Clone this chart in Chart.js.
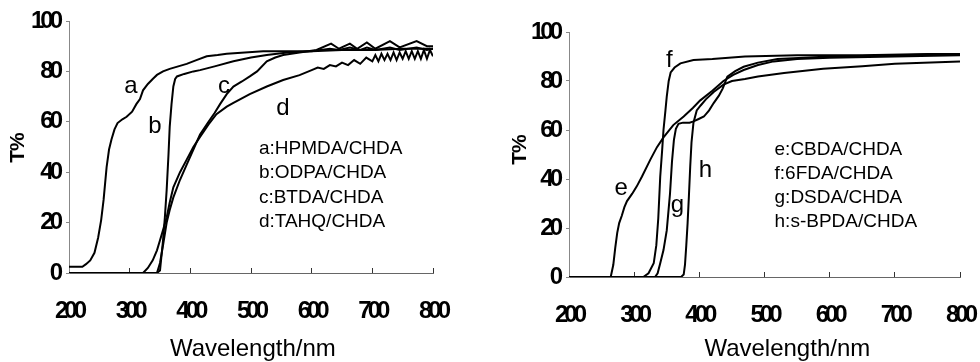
<!DOCTYPE html>
<html>
<head>
<meta charset="utf-8">
<title>Transmittance spectra</title>
<script src="https://cdn.jsdelivr.net/npm/chart.js@4.4.1/dist/chart.umd.min.js"></script>
<style>
  html, body { margin: 0; padding: 0; background: #fff; }
  #wrap { position: relative; width: 980px; height: 362px; }
  canvas { position: absolute; top: 0; }
  #left { left: 0; }
  #right { left: 490px; }
</style>
</head>
<body>
<div id="wrap">
  <canvas id="left" width="490" height="362"></canvas>
  <canvas id="right" width="490" height="362"></canvas>
</div>
<script>
// wavelength (nm) / transmittance (%)
const aNm = [200, 222, 228, 235, 242, 248, 253, 257, 262, 266, 270, 275, 280, 288, 295, 304, 311, 317, 322, 330, 338, 345, 355, 366, 380, 394, 410, 427, 445, 460, 490, 520, 560, 600, 650, 700, 750, 800];
const aT  = [2.5, 2.5, 3.5, 5, 8, 14, 21, 29, 42, 49, 53, 57, 59.5, 61, 62, 64, 67, 69, 72.5, 75, 77, 78.6, 80, 81, 82, 83, 84.5, 86, 86.5, 87, 87.5, 88, 88, 88, 88.5, 88.5, 89, 89];

const bNm = [200, 345, 350, 355, 358, 361, 364, 366, 369, 372, 375, 378, 390, 405, 416, 440, 471, 500, 526, 560, 600, 630, 645, 663, 680, 691, 705, 729, 745, 773, 790, 800];
const bT  = [0, 0, 1, 13, 22, 33, 47, 58, 67, 74, 77, 78, 79, 80, 80.5, 82, 84, 85.5, 86.5, 87.5, 88, 89, 88.5, 89.5, 88.5, 89.5, 88.5, 89.5, 88.5, 89.5, 88.5, 89];

const cNm = [200, 345, 350, 355, 361, 366, 372, 383, 394, 405, 416, 430, 440, 449, 460, 471, 485, 498, 510, 526, 540, 553, 580, 608, 632, 645, 663, 675, 691, 705, 729, 745, 773, 790, 800];
const cT  = [0, 0, 4, 11, 20, 25, 30, 37, 43, 49, 55, 60, 63.5, 67, 71, 74, 76, 78, 80, 84, 85.5, 86.5, 87.5, 88.5, 91, 89, 91, 89, 91.5, 89, 92, 89.5, 92, 90, 90];

const dNm = [200, 322, 330, 338, 345, 350, 355, 361, 366, 372, 383, 394, 405, 416, 430, 443, 460, 471, 498, 526, 553, 580, 600, 610, 620, 630, 640, 650, 660, 670, 680, 690, 700, 705, 710, 715, 720, 725, 730, 735, 740, 745, 750, 755, 760, 765, 770, 775, 780, 785, 790, 795, 800];
const dT  = [0, 0, 2, 5, 9, 13, 17, 22, 28, 34, 40, 45, 50, 54, 59, 63, 66, 67.5, 71, 74, 76.6, 78.5, 80.5, 81.5, 81, 82.5, 82, 83.5, 82.5, 84.5, 83, 85.5, 84, 86.5, 84, 87, 84.5, 87, 84.5, 87.5, 84.5, 87.5, 85, 88, 85, 88, 85, 88, 85, 88.5, 85, 88.5, 86];

const eNm = [200, 264, 268, 271, 274, 277, 281, 285, 289, 297, 304, 312, 325, 335, 345, 360, 376, 390, 401, 420, 437, 452, 468, 490, 514, 550, 600, 700, 800];
const eT  = [0, 0, 5, 12, 18, 22, 25, 28.5, 31, 34, 37, 41, 48, 53, 57, 62, 65.5, 69, 72, 76, 80, 82.5, 84.5, 86.5, 88, 89, 89.5, 90, 90.5];

const fNm = [200, 314, 322, 330, 334, 337, 340, 343, 345, 348, 350, 353, 356, 362, 371, 391, 420, 470, 550, 650, 750, 800];
const fT  = [0, 0, 1.5, 5.6, 13, 24, 41, 52, 60, 68, 73.6, 80, 83.5, 85.5, 87.2, 88.6, 89, 90, 90.5, 90.5, 91, 91];

const gNm = [200, 332, 336, 340, 345, 350, 355, 358, 361, 364, 368, 375, 385, 391, 399, 407, 415, 422, 430, 436, 443, 455, 468, 490, 520, 560, 600, 700, 800];
const gT  = [0, 0, 1.5, 5.6, 11, 19, 34, 47, 56, 60.5, 62.5, 63, 63, 63.5, 64.5, 65.5, 68, 71, 74, 77, 81.8, 84, 85.8, 87.5, 89, 89.5, 90, 90.5, 91];

const hNm = [200, 372, 376, 378, 380, 382, 384, 386, 388, 391, 396, 402, 410, 422, 437, 450, 470, 490, 530, 590, 650, 700, 800];
const hT  = [0, 0, 1, 5, 13, 22, 33, 45, 55, 63, 68, 70, 72.5, 75.5, 78.5, 80, 80.8, 81.8, 83.3, 85, 86, 87, 88];

const xTicks = [200, 300, 400, 500, 600, 700, 800];
const yTicks = [0, 20, 40, 60, 80, 100];

const legendLeft = ['a:HPMDA/CHDA', 'b:ODPA/CHDA', 'c:BTDA/CHDA', 'd:TAHQ/CHDA'];
const legendRight = ['e:CBDA/CHDA', 'f:6FDA/CHDA', 'g:DSDA/CHDA', 'h:s-BPDA/CHDA'];

const SANS = '"Liberation Sans", Arial, Helvetica, sans-serif';

const pts = (xs, ys) => xs.map((x, i) => ({ x: x, y: ys[i] }));

const line = (label, xs, ys) => ({
    label: label,
    data: pts(xs, ys),
    borderColor: '#000',
    borderWidth: 2,
    pointRadius: 0,
    tension: 0,
    fill: false
});

// squeeze the axis numbers like the scanned figure
const squeeze = {
    id: 'squeeze',
    beforeDraw(chart) { chart.ctx.letterSpacing = '-4px'; },
    beforeDatasetsDraw(chart) { chart.ctx.letterSpacing = '0px'; }
};

// curve letters, composition list and axis titles
const notes = {
    id: 'notes',
    afterDraw(chart, args, opts) {
        const ctx = chart.ctx;
        const x = chart.scales.x, y = chart.scales.y;
        ctx.save();
        ctx.letterSpacing = '0px';
        ctx.fillStyle = '#000';
        ctx.textBaseline = 'alphabetic';

        ctx.font = '24px ' + SANS;
        ctx.textAlign = 'center';
        opts.letters.forEach(l => {
            ctx.fillText(l.text, x.getPixelForValue(l.x), y.getPixelForValue(l.y));
        });

        ctx.font = '19px ' + SANS;
        ctx.textAlign = 'left';
        const lx = x.getPixelForValue(opts.listX);
        const ly = y.getPixelForValue(opts.listY);
        opts.lines.forEach((t, i) => ctx.fillText(t, lx, ly + i * opts.gap));

        ctx.font = '24px ' + SANS;
        ctx.textAlign = 'center';
        ctx.fillText('Wavelength/nm', x.getPixelForValue(opts.titleX), chart.height - 6);

        ctx.translate(opts.yTitleX, opts.yTitleY);
        ctx.rotate(-Math.PI / 2);
        ctx.font = 'bold 21px ' + SANS;
        ctx.letterSpacing = '-1px';
        ctx.textBaseline = 'middle';
        ctx.fillText('T%', 0, 0);
        ctx.restore();
    }
};

function makeChart(id, datasets, box, noteOpts) {
    return new Chart(document.getElementById(id), {
        type: 'line',
        data: { datasets: datasets },
        plugins: [squeeze, notes],
        options: {
            responsive: false,
            animation: false,
            layout: { padding: { left: 0, right: box.right, top: box.top, bottom: 0 } },
            plugins: {
                legend: { display: false },
                tooltip: { enabled: false },
                notes: noteOpts
            },
            scales: {
                x: {
                    type: 'linear',
                    min: 200,
                    max: 800,
                    afterBuildTicks: s => { s.ticks = xTicks.map(v => ({ value: v })); },
                    afterFit: s => { s.height = box.xHeight; s.paddingLeft = 0; s.paddingRight = 0; },
                    ticks: {
                        color: '#000',
                        padding: 29,
                        maxRotation: 0,
                        font: { family: SANS, weight: 'bold', size: 24 }
                    },
                    grid: { drawOnChartArea: false, tickLength: -5, color: '#333', lineWidth: 1 },
                    border: { color: '#666', width: 1, dash: [5, 2] }
                },
                y: {
                    min: 0,
                    max: 100,
                    afterBuildTicks: s => { s.ticks = yTicks.map(v => ({ value: v })); },
                    afterFit: s => { s.width = box.yWidth; s.paddingTop = 0; s.paddingBottom = 0; },
                    ticks: {
                        color: '#000',
                        padding: 7,
                        font: { family: SANS, weight: 'bold', size: 24 }
                    },
                    grid: { drawOnChartArea: false, tickLength: 3, color: '#888', lineWidth: 1 },
                    border: { color: '#888', width: 1 }
                }
            }
        }
    });
}

makeChart('left', [
    line('a:HPMDA/CHDA', aNm, aT),
    line('b:ODPA/CHDA', bNm, bT),
    line('c:BTDA/CHDA', cNm, cT),
    line('d:TAHQ/CHDA', dNm, dT)
], { top: 21, right: 57, yWidth: 69, xHeight: 89 }, {
    letters: [
        { text: 'a', x: 302, y: 71.4 },
        { text: 'b', x: 341.7, y: 55.6 },
        { text: 'c', x: 455.5, y: 71.4 },
        { text: 'd', x: 552.7, y: 62.7 }
    ],
    lines: legendLeft,
    listX: 513,
    listY: 47.1,
    gap: 24.1,
    titleX: 503,
    yTitleX: 18,
    yTitleY: 148
});

makeChart('right', [
    line('e:CBDA/CHDA', eNm, eT),
    line('f:6FDA/CHDA', fNm, fT),
    line('g:DSDA/CHDA', gNm, gT),
    line('h:s-BPDA/CHDA', hNm, hT)
], { top: 32, right: 20, yWidth: 79, xHeight: 85 }, {
    letters: [
        { text: 'e', x: 280, y: 33.5 },
        { text: 'f', x: 353.8, y: 85.8 },
        { text: 'g', x: 366.2, y: 26.7 },
        { text: 'h', x: 409.2, y: 40.9 }
    ],
    lines: legendRight,
    listX: 515.4,
    listY: 49.8,
    gap: 24,
    titleX: 535,
    yTitleX: 30,
    yTitleY: 150
});
</script>
</body>
</html>
